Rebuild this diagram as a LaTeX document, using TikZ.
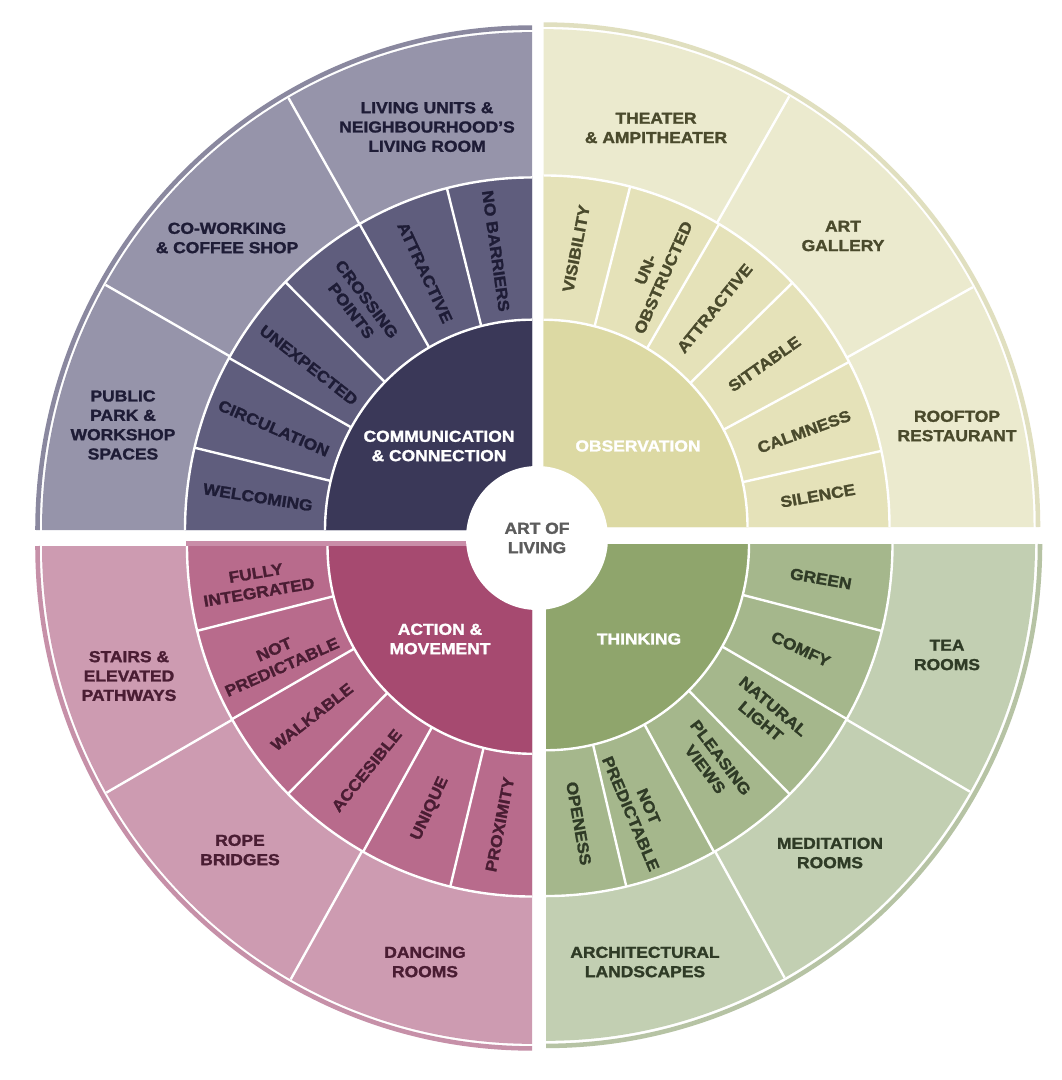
\documentclass[tikz,border=0pt]{standalone}
\usepackage{fontspec}
\setmainfont{Liberation Sans}[BoldFeatures={FakeBold=1.6, FakeStretch=1.1}]
\definecolor{tlA}{HTML}{3A3858}
\definecolor{tlB}{HTML}{5F5D7D}
\definecolor{tlC}{HTML}{9694AA}
\definecolor{tlD}{HTML}{8A889F}
\definecolor{tlT}{HTML}{1E1C36}
\definecolor{trA}{HTML}{DCD9A3}
\definecolor{trB}{HTML}{E5E2B9}
\definecolor{trC}{HTML}{EBEACE}
\definecolor{trD}{HTML}{E0DFBF}
\definecolor{trT}{HTML}{4A4A2C}
\definecolor{blA}{HTML}{A64A70}
\definecolor{blB}{HTML}{B86B8C}
\definecolor{blC}{HTML}{CD9BB1}
\definecolor{blD}{HTML}{C690A8}
\definecolor{blE}{HTML}{C98DA8}
\definecolor{blT}{HTML}{4A1D33}
\definecolor{brA}{HTML}{8FA56C}
\definecolor{brB}{HTML}{A5B78C}
\definecolor{brC}{HTML}{C2CFB2}
\definecolor{brD}{HTML}{B6C3A4}
\definecolor{brT}{HTML}{2F3B26}
\definecolor{ctrT}{HTML}{5C5C5C}
\newcommand{\lblfont}{\fontsize{11.9}{14.5}\selectfont\bfseries}
\newcommand{\qpie}[4]{\fill[#4] (0,0) -- (#1:#3) arc[start angle=#1, end angle=#2, radius=#3] -- cycle;}
\newcommand{\qarc}[3]{\draw[wl] (#1:#3) arc[start angle=#1, end angle=#2, radius=#3];}
\begin{document}
\begin{tikzpicture}[x=0.75pt,y=0.75pt,
  wl/.style={white, line width=1.8pt},
  band/.style={line width=3.4pt},
  lbl/.style={font=\lblfont, align=center, inner sep=0pt}]
\useasboundingbox (0,0) rectangle (1061,-1080);
\fill[white] (0,0) rectangle (1061,-1080);

% ---------- top-left quadrant ----------
\begin{scope}[shift={(532,-530)}, yscale=1.016]
  \draw[band, tlD] (90:494.5) arc[start angle=90, end angle=180, radius=494.5];
  \qpie{90}{180}{490}{tlC}
  \qpie{90}{180}{347}{tlB}
  \qpie{90}{180}{207}{tlA}
  \qarc{90}{180}{347}
  \qarc{90}{180}{207}
  \foreach \a in {104.2,119.8,135.3,150.8,166.5} \draw[wl] (\a:207) -- (\a:347);
  \foreach \a in {119.8,150.5} \draw[wl] (\a:347) -- (\a:490);
  \node[lbl, text=tlT, rotate=-82] (tlm1) at (97.5:277) {NO BARRIERS};
  \node[lbl, text=tlT, rotate=-65] (tlm2) at (112.9:275) {ATTRACTIVE};
  \node[lbl, text=tlT, rotate=-53] (tlm3) at (128:281) {CROSSING\\POINTS};
  \node[lbl, text=tlT, rotate=-38] (tlm4) at (144:276) {UNEXPECTED};
  \node[lbl, text=tlT, rotate=-23.5] (tlm5) at (158.8:277) {CIRCULATION};
  \node[lbl, text=tlT, rotate=-9] (tlm6) at (173.3:276) {WELCOMING};
\end{scope}

% ---------- top-right quadrant ----------
\begin{scope}[shift={(543.5,-527)}, yscale=1.016]
  \draw[band, trD] (0:494.5) arc[start angle=0, end angle=90, radius=494.5];
  \qpie{0}{90}{490}{trC}
  \qpie{0}{90}{346}{trB}
  \qpie{0}{90}{204}{trA}
  \qarc{0}{90}{346}
  \qarc{0}{90}{204}
  \foreach \a in {12.5,28,44,59.5,75.5} \draw[wl] (\a:204) -- (\a:346);
  \foreach \a in {28.8,59.9} \draw[wl] (\a:346) -- (\a:490);
  \node[lbl, text=trT, rotate=79] (trm1) at (83.2:276) {VISIBILITY};
  \node[lbl, text=trT, rotate=66] (trm2) at (66:273) {UN-\\OBSTRUCTED};
  \node[lbl, text=trT, rotate=51] (trm3) at (51.5:275) {ATTRACTIVE};
  \node[lbl, text=trT, rotate=35] (trm4) at (36:273) {SITTABLE};
  \node[lbl, text=trT, rotate=20] (trm5) at (19.8:277) {CALMNESS};
  \node[lbl, text=trT, rotate=10] (trm6) at (6.4:276) {SILENCE};
\end{scope}

% ---------- bottom-left quadrant ----------
\fill[blE] (186,-540.5) rectangle (532,-546.5);
\begin{scope}[shift={(532,-546)}, yscale=1.016]
  \draw[band, blD] (180:494.5) arc[start angle=180, end angle=270, radius=494.5];
  \qpie{180}{270}{490}{blC}
  \qpie{180}{270}{345}{blB}
  \qpie{180}{270}{204.5}{blA}
  \qarc{180}{270}{345}
  \qarc{180}{270}{204.5}
  \foreach \a in {194,209.6,225,240.7,256.3} \draw[wl] (\a:204.5) -- (\a:345);
  \foreach \a in {209.7,240.5} \draw[wl] (\a:345) -- (\a:490);
  \node[lbl, text=blT, rotate=9.5] (blm1) at (187.5:277) {FULLY\\INTEGRATED};
  \node[lbl, text=blT, rotate=24] (blm2) at (203.5:277) {NOT\\PREDICTABLE};
  \node[lbl, text=blT, rotate=38] (blm3) at (217.4:277) {WALKABLE};
  \node[lbl, text=blT, rotate=51] (blm4) at (233.2:276) {ACCESIBLE};
  \node[lbl, text=blT, rotate=65] (blm5) at (248.5:278) {UNIQUE};
  \node[lbl, text=blT, rotate=79] (blm6) at (263.3:276) {PROXIMITY};
\end{scope}

% ---------- bottom-right quadrant ----------
\begin{scope}[shift={(546,-544)}, yscale=1.016]
  \draw[band, brD] (270:494) arc[start angle=270, end angle=360, radius=494];
  \qpie{270}{360}{489}{brC}
  \qpie{270}{360}{346.5}{brB}
  \qpie{270}{360}{203}{brA}
  \qarc{270}{360}{346.5}
  \qarc{270}{360}{203}
  \foreach \a in {283.4,299,314.7,330.2,345.7} \draw[wl] (\a:203) -- (\a:346.5);
  \foreach \a in {299.2,330.1} \draw[wl] (\a:346.5) -- (\a:489);
  \node[lbl, text=brT, rotate=-10] (brm1) at (352.9:277) {GREEN};
  \node[lbl, text=brT, rotate=-25] (brm2) at (337.9:275) {COMFY};
  \node[lbl, text=brT, rotate=-40] (brm3) at (322.9:277) {NATURAL\\LIGHT};
  \node[lbl, text=brT, rotate=-53] (brm4) at (307.7:273) {PLEASING\\VIEWS};
  \node[lbl, text=brT, rotate=-67] (brm5) at (289.7:278) {NOT\\PREDICTABLE};
  \node[lbl, text=brT, rotate=-80] (brm6) at (276.8:277) {OPENESS};
\end{scope}

% ---------- centre ----------
\fill[white] (537,-538) ellipse [x radius=71, y radius=72];
\node[lbl, text=ctrT] (centre) at (537,-538) {ART OF\\LIVING};

% ---------- inner labels ----------
\node[lbl, text=white] (comm) at (439,-446) {COMMUNICATION\\\& CONNECTION};
\node[lbl, text=white] (obs) at (638,-446) {OBSERVATION};
\node[lbl, text=white] (act) at (440,-639) {ACTION \&\\MOVEMENT};
\node[lbl, text=white] (think) at (639,-639) {THINKING};

% ---------- outer labels ----------
\node[lbl, text=tlT] (tlo1) at (427,-127) {LIVING UNITS \&\\NEIGHBOURHOOD’S\\LIVING ROOM};
\node[lbl, text=tlT] (tlo2) at (227,-238) {CO-WORKING\\\& COFFEE SHOP};
\node[lbl, text=tlT] (tlo3) at (123,-425) {PUBLIC\\PARK \&\\WORKSHOP\\SPACES};
\node[lbl, text=trT] (tro1) at (656,-128) {THEATER\\\& AMPITHEATER};
\node[lbl, text=trT] (tro2) at (843,-236) {ART\\GALLERY};
\node[lbl, text=trT] (tro3) at (957,-426) {ROOFTOP\\RESTAURANT};
\node[lbl, text=blT] (blo1) at (129,-676) {STAIRS \&\\ELEVATED\\PATHWAYS};
\node[lbl, text=blT] (blo2) at (240,-850) {ROPE\\BRIDGES};
\node[lbl, text=blT] (blo3) at (425,-962) {DANCING\\ROOMS};
\node[lbl, text=brT] (bro1) at (947,-655) {TEA\\ROOMS};
\node[lbl, text=brT] (bro2) at (830,-853) {MEDITATION\\ROOMS};
\node[lbl, text=brT] (bro3) at (645,-962) {ARCHITECTURAL\\LANDSCAPES};
\end{tikzpicture}
\end{document}
